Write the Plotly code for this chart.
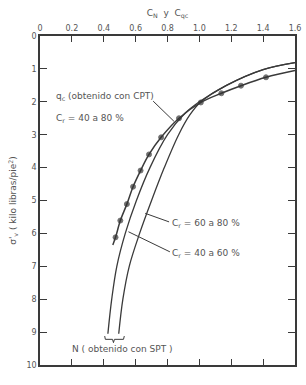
import plotly.graph_objects as go

# q_c curve (obtenido con CPT): C_qc vs sigma'v
qc_x = [0.457, 0.474, 0.504, 0.545, 0.584, 0.631, 0.684, 0.760, 0.872, 1.009, 1.138, 1.261, 1.418, 1.600]
qc_y = [6.35, 6.12, 5.61, 5.11, 4.58, 4.09, 3.60, 3.08, 2.50, 2.02, 1.74, 1.51, 1.255, 1.05]
qc_marker = [0, 1, 1, 1, 1, 1, 1, 1, 1, 1, 1, 1, 1, 0]

# N curves (obtenido con SPT)
n4060_x = [0.426, 0.450, 0.482, 0.535, 0.605, 0.690, 0.800, 0.910, 1.000, 1.170, 1.400, 1.600]
n4060_y = [9.05, 8.00, 7.00, 6.00, 5.00, 4.00, 3.00, 2.35, 2.00, 1.50, 1.02, 0.81]
n6080_x = [0.494, 0.520, 0.560, 0.625, 0.700, 0.780, 0.870, 0.940, 1.010, 1.170, 1.400, 1.600]
n6080_y = [9.05, 8.00, 7.00, 6.00, 5.00, 4.00, 3.00, 2.40, 2.00, 1.50, 1.02, 0.81]

x_ticks = [0, 0.2, 0.4, 0.6, 0.8, 1.0, 1.2, 1.4, 1.6]
x_tick_text = ["0", "0.2", "0.4", "0.6", "0.8", "1.0", "1.2", "1.4", "1.6"]
y_ticks = [0, 1, 2, 3, 4, 5, 6, 7, 8, 9, 10]

LINE = "#3a3a3a"
TXT = "#555555"
FONT = "DejaVu Sans"

fig = go.Figure()
fig.add_trace(go.Scatter(x=n4060_x, y=n4060_y, mode="lines",
                         line=dict(color=LINE, width=1.3, shape="spline"), showlegend=False))
fig.add_trace(go.Scatter(x=n6080_x, y=n6080_y, mode="lines",
                         line=dict(color=LINE, width=1.3, shape="spline"), showlegend=False))
fig.add_trace(go.Scatter(x=qc_x, y=qc_y, mode="lines+markers",
                         line=dict(color=LINE, width=1.5, shape="spline"),
                         marker=dict(color="#333333", size=[5 * m for m in qc_marker]),
                         showlegend=False))

ann = dict(font=dict(family=FONT, size=9, color=TXT), showarrow=False, xanchor="left")
fig.add_annotation(x=0.09, y=1.85, text="q<sub>c</sub> (obtenido con CPT)", **ann)
fig.add_annotation(x=0.09, y=2.5, text="C<sub>r</sub> = 40 a 80 %", **ann)
fig.add_annotation(x=0.815, y=5.7, text="C<sub>r</sub> = 60 a 80 %", **ann)
fig.add_annotation(x=0.815, y=6.6, text="C<sub>r</sub> = 40 a 60 %", **ann)
fig.add_annotation(x=0.19, y=9.5, text="N ( obtenido con SPT )", **ann)

lc = dict(color=LINE, width=1)
fig.add_shape(type="line", x0=0.71, y0=1.98, x1=0.84, y1=2.59, line=lc)
fig.add_shape(type="line", x0=0.66, y0=5.39, x1=0.81, y1=5.65, line=lc)
fig.add_shape(type="line", x0=0.555, y0=5.95, x1=0.815, y1=6.56, line=lc)
fig.add_shape(type="path",
              path="M 0.406 9.12 L 0.41 9.22 L 0.455 9.22 L 0.461 9.32 L 0.467 9.22 L 0.524 9.22 L 0.529 9.12",
              line=lc)

fig.update_xaxes(range=[0, 1.6], side="top", tickvals=x_ticks, ticktext=x_tick_text,
                 ticks="inside", ticklen=6, tickcolor=LINE, showline=True, linecolor=LINE,
                 linewidth=1.5, mirror="ticks", showgrid=False, zeroline=False,
                 tickfont=dict(family=FONT, size=8, color=TXT),
                 title=dict(text="C<sub>N</sub>  y  C<sub>qc</sub>", standoff=6,
                            font=dict(family=FONT, size=9, color=TXT)))
fig.update_yaxes(range=[10, 0], tickvals=y_ticks,
                 ticks="inside", ticklen=7, tickcolor=LINE, showline=True, linecolor=LINE,
                 linewidth=1.5, mirror="ticks", showgrid=False, zeroline=False,
                 tickfont=dict(family=FONT, size=8, color=TXT),
                 title=dict(text="σ'<sub>v</sub> ( kilo libras/pie<sup>2</sup>)", standoff=8,
                            font=dict(family=FONT, size=9, color=TXT)))

fig.update_layout(width=306, height=385, margin=dict(l=40, r=5, t=36, b=20),
                  plot_bgcolor="white", paper_bgcolor="white")
fig.write_html("out.html")
